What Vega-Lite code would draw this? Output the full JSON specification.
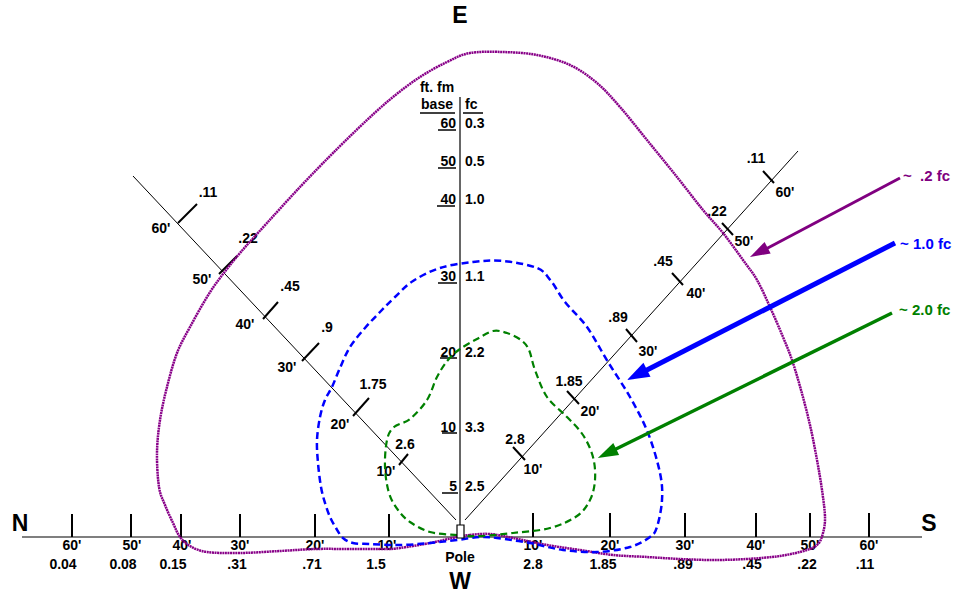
{
  "$schema": "https://vega.github.io/schema/vega-lite/v6.json",
  "width": 964,
  "height": 594,
  "padding": 0,
  "autosize": {"type": "fit", "contains": "padding"},
  "background": "white",
  "config": {"view": {"stroke": null}},
  "datasets": {
    "segments": [
      {"kind": "axis", "x": 22, "y": 537, "x2": 922, "y2": 537},
      {"kind": "mast", "x": 460, "y": 97, "x2": 460, "y2": 525},
      {"kind": "diag", "x": 133, "y": 176, "x2": 456, "y2": 520},
      {"kind": "diag", "x": 465, "y": 520, "x2": 798, "y2": 151},
      {"kind": "tick", "x": 72, "y": 514, "x2": 72, "y2": 537},
      {"kind": "tick", "x": 131, "y": 514, "x2": 131, "y2": 537},
      {"kind": "tick", "x": 181, "y": 514, "x2": 181, "y2": 537},
      {"kind": "tick", "x": 240, "y": 514, "x2": 240, "y2": 537},
      {"kind": "tick", "x": 315, "y": 514, "x2": 315, "y2": 537},
      {"kind": "tick", "x": 389, "y": 514, "x2": 389, "y2": 537},
      {"kind": "tick", "x": 533, "y": 513, "x2": 533, "y2": 537},
      {"kind": "tick", "x": 610, "y": 513, "x2": 610, "y2": 537},
      {"kind": "tick", "x": 685, "y": 513, "x2": 685, "y2": 537},
      {"kind": "tick", "x": 756, "y": 513, "x2": 756, "y2": 537},
      {"kind": "tick", "x": 810, "y": 513, "x2": 810, "y2": 537},
      {"kind": "tick", "x": 869, "y": 513, "x2": 869, "y2": 537},
      {"kind": "tick", "x": 178, "y": 223, "x2": 197, "y2": 204},
      {"kind": "tick", "x": 219, "y": 274, "x2": 237, "y2": 256},
      {"kind": "tick", "x": 263, "y": 319, "x2": 278, "y2": 302},
      {"kind": "tick", "x": 302, "y": 361, "x2": 319, "y2": 343},
      {"kind": "tick", "x": 353, "y": 416, "x2": 369, "y2": 398},
      {"kind": "tick", "x": 399, "y": 465, "x2": 408, "y2": 454},
      {"kind": "tick", "x": 513, "y": 447, "x2": 525, "y2": 460},
      {"kind": "tick", "x": 567, "y": 391, "x2": 579, "y2": 404},
      {"kind": "tick", "x": 626, "y": 329, "x2": 637, "y2": 342},
      {"kind": "tick", "x": 672, "y": 273, "x2": 683, "y2": 285},
      {"kind": "tick", "x": 722, "y": 223, "x2": 733, "y2": 235},
      {"kind": "tick", "x": 763, "y": 171, "x2": 774, "y2": 183},
      {"kind": "underline", "x": 420, "y": 113, "x2": 455, "y2": 113},
      {"kind": "underline", "x": 463, "y": 113, "x2": 483, "y2": 113},
      {"kind": "underline", "x": 438, "y": 130, "x2": 456, "y2": 130},
      {"kind": "underline", "x": 438, "y": 168, "x2": 456, "y2": 168},
      {"kind": "underline", "x": 437, "y": 206, "x2": 455, "y2": 206},
      {"kind": "underline", "x": 438, "y": 283, "x2": 457, "y2": 283},
      {"kind": "underline", "x": 440, "y": 358, "x2": 457, "y2": 358},
      {"kind": "underline", "x": 442, "y": 433, "x2": 457, "y2": 433},
      {"kind": "underline", "x": 442, "y": 493, "x2": 458, "y2": 493}
    ],
    "arrows": [
      {"series": "purple", "x": 900, "y": 178, "x2": 764, "y2": 250},
      {"series": "blue", "x": 895, "y": 243, "x2": 643, "y2": 372},
      {"series": "green", "x": 892, "y": 313, "x2": 614, "y2": 450}
    ],
    "heads": [
      {"series": "purple", "x": 758.8, "y": 252.4},
      {"series": "blue", "x": 637, "y": 374.9},
      {"series": "green", "x": 607, "y": 453.6}
    ],
    "labels": [
      {"group": "big", "x": 20, "y": 524, "text": "N"},
      {"group": "big", "x": 929, "y": 524, "text": "S"},
      {"group": "big", "x": 460, "y": 16, "text": "E"},
      {"group": "big", "x": 460, "y": 582, "text": "W"},
      {"group": "c", "x": 460, "y": 558, "text": "Pole"},
      {"group": "c", "x": 437, "y": 88, "text": "ft. fm"},
      {"group": "c", "x": 437, "y": 105, "text": "base"},
      {"group": "l", "x": 465, "y": 105, "text": "fc"},
      {"group": "r", "x": 456, "y": 124, "text": "60"},
      {"group": "r", "x": 456, "y": 162, "text": "50"},
      {"group": "r", "x": 456, "y": 200, "text": "40"},
      {"group": "r", "x": 456, "y": 277, "text": "30"},
      {"group": "r", "x": 456, "y": 353, "text": "20"},
      {"group": "r", "x": 456, "y": 428, "text": "10"},
      {"group": "r", "x": 457, "y": 487, "text": "5"},
      {"group": "l", "x": 465, "y": 124, "text": "0.3"},
      {"group": "l", "x": 465, "y": 162, "text": "0.5"},
      {"group": "l", "x": 465, "y": 200, "text": "1.0"},
      {"group": "l", "x": 465, "y": 277, "text": "1.1"},
      {"group": "l", "x": 465, "y": 353, "text": "2.2"},
      {"group": "l", "x": 465, "y": 428, "text": "3.3"},
      {"group": "l", "x": 465, "y": 487, "text": "2.5"},
      {"group": "c", "x": 208, "y": 193, "text": ".11"},
      {"group": "c", "x": 161, "y": 229, "text": "60'"},
      {"group": "c", "x": 248, "y": 239, "text": ".22"},
      {"group": "c", "x": 202, "y": 280, "text": "50'"},
      {"group": "c", "x": 290, "y": 287, "text": ".45"},
      {"group": "c", "x": 245, "y": 325, "text": "40'"},
      {"group": "c", "x": 327, "y": 328, "text": ".9"},
      {"group": "c", "x": 287, "y": 368, "text": "30'"},
      {"group": "c", "x": 373, "y": 385, "text": "1.75"},
      {"group": "c", "x": 340, "y": 425, "text": "20'"},
      {"group": "c", "x": 405, "y": 445, "text": "2.6"},
      {"group": "c", "x": 386, "y": 472, "text": "10'"},
      {"group": "c", "x": 515, "y": 440, "text": "2.8"},
      {"group": "c", "x": 533, "y": 470, "text": "10'"},
      {"group": "c", "x": 569, "y": 382, "text": "1.85"},
      {"group": "c", "x": 590, "y": 412, "text": "20'"},
      {"group": "c", "x": 618, "y": 318, "text": ".89"},
      {"group": "c", "x": 648, "y": 352, "text": "30'"},
      {"group": "c", "x": 663, "y": 262, "text": ".45"},
      {"group": "c", "x": 696, "y": 294, "text": "40'"},
      {"group": "c", "x": 717, "y": 212, "text": ".22"},
      {"group": "c", "x": 744, "y": 242, "text": "50'"},
      {"group": "c", "x": 756, "y": 159, "text": ".11"},
      {"group": "c", "x": 785, "y": 193, "text": "60'"},
      {"group": "c", "x": 72, "y": 546, "text": "60'"},
      {"group": "c", "x": 63, "y": 565, "text": "0.04"},
      {"group": "c", "x": 132, "y": 546, "text": "50'"},
      {"group": "c", "x": 123, "y": 565, "text": "0.08"},
      {"group": "c", "x": 182, "y": 546, "text": "40'"},
      {"group": "c", "x": 173, "y": 565, "text": "0.15"},
      {"group": "c", "x": 240, "y": 546, "text": "30'"},
      {"group": "c", "x": 237, "y": 565, "text": ".31"},
      {"group": "c", "x": 315, "y": 546, "text": "20'"},
      {"group": "c", "x": 312, "y": 565, "text": ".71"},
      {"group": "c", "x": 387, "y": 546, "text": "10'"},
      {"group": "c", "x": 376, "y": 565, "text": "1.5"},
      {"group": "c", "x": 533, "y": 546, "text": "10'"},
      {"group": "c", "x": 533, "y": 565, "text": "2.8"},
      {"group": "c", "x": 610, "y": 546, "text": "20'"},
      {"group": "c", "x": 603, "y": 565, "text": "1.85"},
      {"group": "c", "x": 685, "y": 546, "text": "30'"},
      {"group": "c", "x": 683, "y": 565, "text": ".89"},
      {"group": "c", "x": 756, "y": 546, "text": "40'"},
      {"group": "c", "x": 752, "y": 565, "text": ".45"},
      {"group": "c", "x": 810, "y": 546, "text": "50'"},
      {"group": "c", "x": 807, "y": 565, "text": ".22"},
      {"group": "c", "x": 869, "y": 546, "text": "60'"},
      {"group": "c", "x": 865, "y": 565, "text": ".11"},
      {"group": "purple", "x": 903, "y": 176, "text": "~\u00a0 .2 fc"},
      {"group": "blue", "x": 900, "y": 244, "text": "~ 1.0 fc"},
      {"group": "green", "x": 899, "y": 310, "text": "~ 2.0 fc"}
    ],
    "pole": [{"x": 457, "y": 525, "x2": 464, "y2": 538}],
    "curves": [
      {"series": "purple", "i": 1, "x": 490, "y": 534},
      {"series": "purple", "i": 2, "x": 470, "y": 535},
      {"series": "purple", "i": 3, "x": 457, "y": 537},
      {"series": "purple", "i": 4, "x": 430, "y": 543},
      {"series": "purple", "i": 5, "x": 400, "y": 548},
      {"series": "purple", "i": 6, "x": 387, "y": 549},
      {"series": "purple", "i": 7, "x": 350, "y": 549},
      {"series": "purple", "i": 8, "x": 315, "y": 549},
      {"series": "purple", "i": 9, "x": 280, "y": 551},
      {"series": "purple", "i": 10, "x": 240, "y": 553},
      {"series": "purple", "i": 11, "x": 207, "y": 552},
      {"series": "purple", "i": 12, "x": 190, "y": 546},
      {"series": "purple", "i": 13, "x": 180, "y": 537},
      {"series": "purple", "i": 14, "x": 173, "y": 523},
      {"series": "purple", "i": 15, "x": 165, "y": 505},
      {"series": "purple", "i": 16, "x": 159, "y": 487},
      {"series": "purple", "i": 17, "x": 157, "y": 453},
      {"series": "purple", "i": 18, "x": 160, "y": 420},
      {"series": "purple", "i": 19, "x": 167, "y": 387},
      {"series": "purple", "i": 20, "x": 177, "y": 353},
      {"series": "purple", "i": 21, "x": 190, "y": 327},
      {"series": "purple", "i": 22, "x": 207, "y": 297},
      {"series": "purple", "i": 23, "x": 220, "y": 278},
      {"series": "purple", "i": 24, "x": 240, "y": 253},
      {"series": "purple", "i": 25, "x": 267, "y": 223},
      {"series": "purple", "i": 26, "x": 300, "y": 187},
      {"series": "purple", "i": 27, "x": 333, "y": 153},
      {"series": "purple", "i": 28, "x": 367, "y": 120},
      {"series": "purple", "i": 29, "x": 393, "y": 97},
      {"series": "purple", "i": 30, "x": 420, "y": 77},
      {"series": "purple", "i": 31, "x": 447, "y": 62},
      {"series": "purple", "i": 32, "x": 470, "y": 53},
      {"series": "purple", "i": 33, "x": 503, "y": 52},
      {"series": "purple", "i": 34, "x": 537, "y": 55},
      {"series": "purple", "i": 35, "x": 570, "y": 65},
      {"series": "purple", "i": 36, "x": 597, "y": 83},
      {"series": "purple", "i": 37, "x": 620, "y": 107},
      {"series": "purple", "i": 38, "x": 647, "y": 140},
      {"series": "purple", "i": 39, "x": 677, "y": 177},
      {"series": "purple", "i": 40, "x": 703, "y": 210},
      {"series": "purple", "i": 41, "x": 723, "y": 233},
      {"series": "purple", "i": 42, "x": 743, "y": 260},
      {"series": "purple", "i": 43, "x": 757, "y": 280},
      {"series": "purple", "i": 44, "x": 770, "y": 307},
      {"series": "purple", "i": 45, "x": 783, "y": 337},
      {"series": "purple", "i": 46, "x": 792, "y": 360},
      {"series": "purple", "i": 47, "x": 801, "y": 390},
      {"series": "purple", "i": 48, "x": 810, "y": 425},
      {"series": "purple", "i": 49, "x": 817, "y": 460},
      {"series": "purple", "i": 50, "x": 822, "y": 490},
      {"series": "purple", "i": 51, "x": 825, "y": 517},
      {"series": "purple", "i": 52, "x": 823, "y": 533},
      {"series": "purple", "i": 53, "x": 818, "y": 544},
      {"series": "purple", "i": 54, "x": 807, "y": 550},
      {"series": "purple", "i": 55, "x": 780, "y": 556},
      {"series": "purple", "i": 56, "x": 747, "y": 559},
      {"series": "purple", "i": 57, "x": 713, "y": 560},
      {"series": "purple", "i": 58, "x": 680, "y": 559},
      {"series": "purple", "i": 59, "x": 647, "y": 557},
      {"series": "purple", "i": 60, "x": 613, "y": 555},
      {"series": "purple", "i": 61, "x": 580, "y": 550},
      {"series": "purple", "i": 62, "x": 547, "y": 545},
      {"series": "purple", "i": 63, "x": 513, "y": 538},
      {"series": "blue", "i": 1, "x": 480, "y": 537},
      {"series": "blue", "i": 2, "x": 457, "y": 540},
      {"series": "blue", "i": 3, "x": 430, "y": 543},
      {"series": "blue", "i": 4, "x": 400, "y": 545},
      {"series": "blue", "i": 5, "x": 370, "y": 544},
      {"series": "blue", "i": 6, "x": 353, "y": 543},
      {"series": "blue", "i": 7, "x": 343, "y": 538},
      {"series": "blue", "i": 8, "x": 336, "y": 528},
      {"series": "blue", "i": 9, "x": 330, "y": 517},
      {"series": "blue", "i": 10, "x": 325, "y": 503},
      {"series": "blue", "i": 11, "x": 321, "y": 487},
      {"series": "blue", "i": 12, "x": 318, "y": 463},
      {"series": "blue", "i": 13, "x": 317, "y": 440},
      {"series": "blue", "i": 14, "x": 320, "y": 417},
      {"series": "blue", "i": 15, "x": 325, "y": 400},
      {"series": "blue", "i": 16, "x": 332, "y": 387},
      {"series": "blue", "i": 17, "x": 340, "y": 368},
      {"series": "blue", "i": 18, "x": 350, "y": 347},
      {"series": "blue", "i": 19, "x": 365, "y": 328},
      {"series": "blue", "i": 20, "x": 380, "y": 312},
      {"series": "blue", "i": 21, "x": 395, "y": 297},
      {"series": "blue", "i": 22, "x": 413, "y": 281},
      {"series": "blue", "i": 23, "x": 440, "y": 268},
      {"series": "blue", "i": 24, "x": 473, "y": 262},
      {"series": "blue", "i": 25, "x": 503, "y": 261},
      {"series": "blue", "i": 26, "x": 537, "y": 268},
      {"series": "blue", "i": 27, "x": 551, "y": 281},
      {"series": "blue", "i": 28, "x": 565, "y": 302},
      {"series": "blue", "i": 29, "x": 587, "y": 327},
      {"series": "blue", "i": 30, "x": 608, "y": 362},
      {"series": "blue", "i": 31, "x": 630, "y": 397},
      {"series": "blue", "i": 32, "x": 648, "y": 433},
      {"series": "blue", "i": 33, "x": 660, "y": 473},
      {"series": "blue", "i": 34, "x": 662, "y": 500},
      {"series": "blue", "i": 35, "x": 657, "y": 527},
      {"series": "blue", "i": 36, "x": 650, "y": 537},
      {"series": "blue", "i": 37, "x": 630, "y": 547},
      {"series": "blue", "i": 38, "x": 597, "y": 552},
      {"series": "blue", "i": 39, "x": 563, "y": 550},
      {"series": "blue", "i": 40, "x": 530, "y": 543},
      {"series": "blue", "i": 41, "x": 497, "y": 538},
      {"series": "green", "i": 1, "x": 480, "y": 536},
      {"series": "green", "i": 2, "x": 457, "y": 535},
      {"series": "green", "i": 3, "x": 430, "y": 532},
      {"series": "green", "i": 4, "x": 410, "y": 522},
      {"series": "green", "i": 5, "x": 398, "y": 510},
      {"series": "green", "i": 6, "x": 389, "y": 493},
      {"series": "green", "i": 7, "x": 385, "y": 467},
      {"series": "green", "i": 8, "x": 387, "y": 440},
      {"series": "green", "i": 9, "x": 394, "y": 427},
      {"series": "green", "i": 10, "x": 410, "y": 419},
      {"series": "green", "i": 11, "x": 427, "y": 400},
      {"series": "green", "i": 12, "x": 437, "y": 377},
      {"series": "green", "i": 13, "x": 448, "y": 360},
      {"series": "green", "i": 14, "x": 460, "y": 349},
      {"series": "green", "i": 15, "x": 477, "y": 339},
      {"series": "green", "i": 16, "x": 493, "y": 331},
      {"series": "green", "i": 17, "x": 507, "y": 333},
      {"series": "green", "i": 18, "x": 521, "y": 340},
      {"series": "green", "i": 19, "x": 529, "y": 350},
      {"series": "green", "i": 20, "x": 535, "y": 370},
      {"series": "green", "i": 21, "x": 547, "y": 397},
      {"series": "green", "i": 22, "x": 567, "y": 417},
      {"series": "green", "i": 23, "x": 583, "y": 435},
      {"series": "green", "i": 24, "x": 593, "y": 457},
      {"series": "green", "i": 25, "x": 595, "y": 480},
      {"series": "green", "i": 26, "x": 590, "y": 500},
      {"series": "green", "i": 27, "x": 577, "y": 516},
      {"series": "green", "i": 28, "x": 550, "y": 528},
      {"series": "green", "i": 29, "x": 513, "y": 533}
    ]
  },
  "encoding": {
    "x": {"field": "x", "type": "quantitative", "axis": null, "scale": {"domain": [0, 964], "nice": false, "zero": false}},
    "y": {"field": "y", "type": "quantitative", "axis": null, "scale": {"domain": [0, 594], "reverse": true, "nice": false, "zero": false}}
  },
  "layer": [
    {
      "data": {"name": "segments"},
      "transform": [{"filter": "datum.kind === 'axis'"}],
      "mark": {"type": "rule", "color": "#555555", "strokeWidth": 1.5},
      "encoding": {"x2": {"field": "x2"}, "y2": {"field": "y2"}}
    },
    {
      "data": {"name": "segments"},
      "transform": [{"filter": "datum.kind === 'mast'"}],
      "mark": {"type": "rule", "color": "#333333", "strokeWidth": 1.5},
      "encoding": {"x2": {"field": "x2"}, "y2": {"field": "y2"}}
    },
    {
      "data": {"name": "segments"},
      "transform": [{"filter": "datum.kind === 'diag'"}],
      "mark": {"type": "rule", "color": "#000000", "strokeWidth": 1},
      "encoding": {"x2": {"field": "x2"}, "y2": {"field": "y2"}}
    },
    {
      "data": {"name": "segments"},
      "transform": [{"filter": "datum.kind === 'tick'"}],
      "mark": {"type": "rule", "color": "#000000", "strokeWidth": 2},
      "encoding": {"x2": {"field": "x2"}, "y2": {"field": "y2"}}
    },
    {
      "data": {"name": "segments"},
      "transform": [{"filter": "datum.kind === 'underline'"}],
      "mark": {"type": "rule", "color": "#000000", "strokeWidth": 1.5},
      "encoding": {"x2": {"field": "x2"}, "y2": {"field": "y2"}}
    },
    {
      "data": {"name": "labels"},
      "transform": [{"filter": "datum.group === 'big'"}],
      "mark": {"type": "text", "font": "Liberation Sans", "fontWeight": "bold", "fontSize": 23, "align": "center", "baseline": "middle", "color": "#000000"},
      "encoding": {"text": {"field": "text"}}
    },
    {
      "data": {"name": "labels"},
      "transform": [{"filter": "datum.group === 'c'"}],
      "mark": {"type": "text", "font": "Liberation Sans", "fontWeight": "bold", "fontSize": 14, "align": "center", "baseline": "middle", "color": "#000000"},
      "encoding": {"text": {"field": "text"}}
    },
    {
      "data": {"name": "labels"},
      "transform": [{"filter": "datum.group === 'r'"}],
      "mark": {"type": "text", "font": "Liberation Sans", "fontWeight": "bold", "fontSize": 14, "align": "right", "baseline": "middle", "color": "#000000"},
      "encoding": {"text": {"field": "text"}}
    },
    {
      "data": {"name": "labels"},
      "transform": [{"filter": "datum.group === 'l'"}],
      "mark": {"type": "text", "font": "Liberation Sans", "fontWeight": "bold", "fontSize": 14, "align": "left", "baseline": "middle", "color": "#000000"},
      "encoding": {"text": {"field": "text"}}
    },
    {
      "data": {"name": "labels"},
      "transform": [{"filter": "datum.group === 'purple' || datum.group === 'blue' || datum.group === 'green'"}],
      "mark": {"type": "text", "font": "Liberation Sans", "fontWeight": "bold", "fontSize": 15, "align": "left", "baseline": "middle"},
      "encoding": {
        "text": {"field": "text"},
        "color": {"field": "group", "type": "nominal", "legend": null, "scale": {"domain": ["purple", "blue", "green"], "range": ["#800080", "#0000ff", "#008000"]}}
      }
    },
    {
      "data": {"name": "curves"},
      "transform": [{"filter": "datum.series === 'purple'"}],
      "mark": {"type": "line", "interpolate": "cardinal-closed", "color": "#880088", "strokeWidth": 2.5, "strokeDash": [2, 0.6]},
      "encoding": {"order": {"field": "i", "type": "quantitative"}}
    },
    {
      "data": {"name": "curves"},
      "transform": [{"filter": "datum.series === 'blue'"}],
      "mark": {"type": "line", "interpolate": "cardinal-closed", "color": "#0000ff", "strokeWidth": 2.5, "strokeDash": [7, 4]},
      "encoding": {"order": {"field": "i", "type": "quantitative"}}
    },
    {
      "data": {"name": "curves"},
      "transform": [{"filter": "datum.series === 'green'"}],
      "mark": {"type": "line", "interpolate": "cardinal-closed", "color": "#008000", "strokeWidth": 2.2, "strokeDash": [7, 4]},
      "encoding": {"order": {"field": "i", "type": "quantitative"}}
    },
    {
      "data": {"name": "arrows"},
      "transform": [{"filter": "datum.series === 'purple'"}],
      "mark": {"type": "rule", "color": "#800080", "strokeWidth": 3},
      "encoding": {"x2": {"field": "x2"}, "y2": {"field": "y2"}}
    },
    {
      "data": {"name": "arrows"},
      "transform": [{"filter": "datum.series === 'blue'"}],
      "mark": {"type": "rule", "color": "#0000ff", "strokeWidth": 5},
      "encoding": {"x2": {"field": "x2"}, "y2": {"field": "y2"}}
    },
    {
      "data": {"name": "arrows"},
      "transform": [{"filter": "datum.series === 'green'"}],
      "mark": {"type": "rule", "color": "#008000", "strokeWidth": 3.5},
      "encoding": {"x2": {"field": "x2"}, "y2": {"field": "y2"}}
    },
    {
      "data": {"name": "heads"},
      "transform": [{"filter": "datum.series === 'purple'"}],
      "mark": {"type": "point", "shape": "M0,-1L0.65,1L-0.65,1Z", "filled": true, "opacity": 1, "color": "#800080", "size": 400, "angle": 242},
      "encoding": {}
    },
    {
      "data": {"name": "heads"},
      "transform": [{"filter": "datum.series === 'blue'"}],
      "mark": {"type": "point", "shape": "M0,-1L0.7,1L-0.7,1Z", "filled": true, "opacity": 1, "color": "#0000ff", "size": 500, "angle": 243},
      "encoding": {}
    },
    {
      "data": {"name": "heads"},
      "transform": [{"filter": "datum.series === 'green'"}],
      "mark": {"type": "point", "shape": "M0,-1L0.65,1L-0.65,1Z", "filled": true, "opacity": 1, "color": "#008000", "size": 420, "angle": 244},
      "encoding": {}
    },
    {
      "data": {"name": "pole"},
      "mark": {"type": "rect", "fill": "#ffffff", "stroke": "#000000", "strokeWidth": 1.2},
      "encoding": {"x2": {"field": "x2"}, "y2": {"field": "y2"}}
    }
  ]
}
